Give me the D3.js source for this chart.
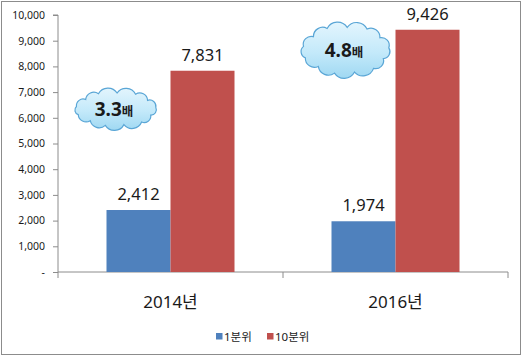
<!DOCTYPE html>
<html><head><meta charset="utf-8">
<script src="https://cdn.jsdelivr.net/npm/d3@7"></script>
<style>
html,body{margin:0;padding:0;background:#fff;}
svg{display:block;}
text{font-family:"Noto Sans","Noto Sans CJK KR",sans-serif;fill:#1a1a1a;}
</style></head>
<body>
<script>
const categories = ["2014년", "2016년"];
const seriesNames = ["1분위", "10분위"];
const series1 = [2412, 1974];
const series10 = [7831, 9426];
const ratioLabels = ["3.3", "4.8"];
const yTicks = [0,1000,2000,3000,4000,5000,6000,7000,8000,9000,10000];
const colors = ["#4F81BD", "#C0504D"];

const W = 522, H = 358;
const svg = d3.select("body").append("svg").attr("width", W).attr("height", H);

// outer border
svg.append("rect").attr("x",1.5).attr("y",1.5).attr("width",519).attr("height",353)
  .attr("fill","#fff").attr("stroke","#8c8c8c").attr("stroke-width",1);

const plot = {left:58, right:508, top:15, bottom:272};
const y = d3.scaleLinear().domain([0,10000]).range([plot.bottom, plot.top]);
const x0 = d3.scaleBand().domain(categories).range([plot.left, plot.right]).paddingInner(0).paddingOuter(0);
const x1 = d3.scaleBand().domain(seriesNames).range([0, 128]);
const groupOffset = (x0.bandwidth() - 128) / 2;

const defs = svg.append("defs");
const grad = defs.append("linearGradient").attr("id","cloudGrad").attr("x1",0).attr("y1",0).attr("x2",0).attr("y2",1);
grad.append("stop").attr("offset","0%").attr("stop-color","#e3f5fd");
grad.append("stop").attr("offset","55%").attr("stop-color","#c3e9fa");
grad.append("stop").attr("offset","100%").attr("stop-color","#9fd8f2");

// y axis
const yAxis = d3.axisLeft(y).tickValues(yTicks).tickSize(5).tickPadding(8)
  .tickFormat(d => d === 0 ? "-" : d3.format(",")(d));
const ya = svg.append("g").attr("transform",`translate(${plot.left},0)`).call(yAxis);
ya.select(".domain").attr("stroke","#8c8c8c").attr("d",`M-5,${plot.top}H0V${plot.bottom}`);
ya.selectAll(".tick line").attr("stroke","#8c8c8c");
ya.selectAll(".tick text").attr("font-size","10.5px").attr("fill","#1a1a1a")
  .style("font-family","'Noto Sans',sans-serif");

// x axis
const xa = svg.append("g").attr("transform",`translate(0,${plot.bottom})`);
xa.append("path").attr("d",`M${plot.left},6V0H${plot.right}V6`).attr("fill","none").attr("stroke","#8c8c8c");
xa.append("line").attr("x1",x0(categories[1])).attr("x2",x0(categories[1])).attr("y1",0).attr("y2",6).attr("stroke","#8c8c8c");

// bars
const data = categories.map((c,i) => ({cat:c, vals:[series1[i], series10[i]]}));
const groups = svg.append("g").selectAll("g").data(data).join("g")
  .attr("transform", d => `translate(${x0(d.cat)+groupOffset},0)`);
groups.selectAll("rect").data(d => d.vals.map((v,j)=>({v, s:seriesNames[j], j}))).join("rect")
  .attr("x", d => x1(d.s)).attr("width", x1.bandwidth())
  .attr("y", d => y(d.v)).attr("height", d => plot.bottom - y(d.v))
  .attr("fill", d => colors[d.j]);
groups.selectAll("text.val").data(d => d.vals.map((v,j)=>({v, s:seriesNames[j], j}))).join("text")
  .attr("class","val")
  .attr("x", d => x1(d.s) + x1.bandwidth()/2).attr("y", d => y(d.v) - 10)
  .attr("text-anchor","middle").attr("font-size","16.5px")
  .text(d => d3.format(",")(d.v));

// category labels
svg.append("g").selectAll("text").data(categories).join("text")
  .attr("x", d => x0(d) + x0.bandwidth()/2).attr("y", 308)
  .attr("text-anchor","middle").attr("font-size","17px").text(d => d);

// clouds
function cloudPath(cx, cy, rx, ry, n) {
  const pts = [];
  for (let i=0;i<n;i++){
    const a = -Math.PI + (i/n)*2*Math.PI + 0.15;
    const jitter = (i%2===0)?1:0.94;
    pts.push([cx + rx*Math.cos(a)*jitter, cy + ry*Math.sin(a)*jitter]);
  }
  let p = `M${pts[0][0]},${pts[0][1]}`;
  for (let i=0;i<n;i++){
    const a = pts[i], b = pts[(i+1)%n];
    const chord = Math.hypot(b[0]-a[0], b[1]-a[1]);
    const r = chord*0.58;
    p += `A${r},${r} 0 0 1 ${b[0]},${b[1]}`;
  }
  return p + "Z";
}
const cloudPos = [
  {cx: 116, cy: 109, rx: 40, ry: 17},
  {cx: 346, cy: 50, rx: 43, ry: 24}
];
categories.forEach((c,i) => {
  const cp = cloudPos[i];
  svg.append("path").attr("d", cloudPath(cp.cx, cp.cy, cp.rx, cp.ry, 13))
    .attr("fill","url(#cloudGrad)").attr("stroke","#5aa6d6").attr("stroke-width",1.2);
  const t = svg.append("text").attr("x", cp.cx - 2).attr("y", cp.cy + 7)
    .attr("text-anchor","middle");
  t.append("tspan").attr("font-size","19px").attr("font-weight","bold").text(ratioLabels[i]);
  t.append("tspan").attr("font-size","12.5px").attr("font-weight","bold")
    .style("font-family","'Noto Sans CJK KR',sans-serif").text("배");
});

// legend
const leg = svg.append("g").selectAll("g").data(seriesNames).join("g")
  .attr("transform",(d,i)=>`translate(${i===0?216:267},333)`);
leg.append("rect").attr("width",6.5).attr("height",6.5).attr("fill",(d,i)=>colors[i]);
leg.append("text").attr("x",8).attr("y",7.5).attr("font-size","11.5px").text(d=>d);
</script>
</body></html>
